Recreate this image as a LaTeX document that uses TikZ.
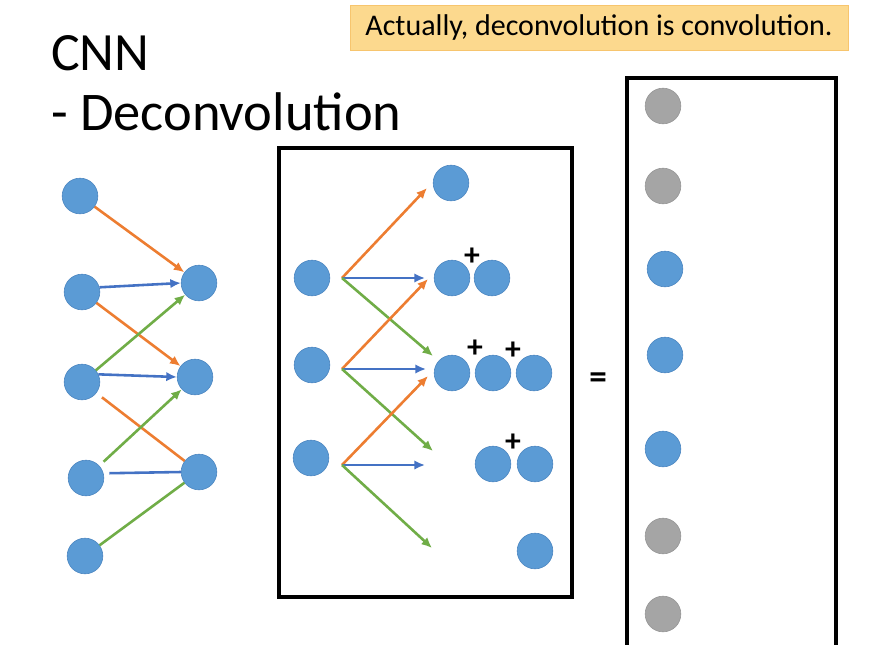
\documentclass[tikz,border=0pt]{standalone}
\usepackage{fontspec}
\setmainfont{Carlito}
\usetikzlibrary{arrows.meta,positioning}
\definecolor{dotblue}{HTML}{5B9BD5}
\definecolor{dotedge}{HTML}{4A85C0}
\definecolor{dotgray}{HTML}{A5A5A5}
\definecolor{grayedge}{HTML}{959595}
\definecolor{arrorange}{HTML}{ED7D31}
\definecolor{arrblue}{HTML}{4472C4}
\definecolor{arrgreen}{HTML}{70AD47}
\definecolor{notefill}{HTML}{FCD98E}
\definecolor{noteedge}{HTML}{F7C56E}

\begin{document}
\begin{tikzpicture}[x=0.03cm,y=-0.03cm,
    dot/.style={circle,fill=dotblue,draw=dotedge,line width=0.5pt,minimum size=1.07cm,inner sep=0pt},
    graydot/.style={dot,fill=dotgray,draw=grayedge},
    link/.style={line width=2.2pt},
    tip/.style={link,-{Latex[length=9pt,width=8pt]}},
    orarr/.style={tip,arrorange},
    bluarr/.style={tip,arrblue},
    grnarr/.style={tip,arrgreen},
    boxline/.style={line width=2.9pt},
    plus/.style={font=\fontsize{27}{27}\selectfont\bfseries,inner sep=0pt}]
  \clip (0,0) rectangle (876,644);
  \fill[white] (0,0) rectangle (876,644);

  % title and note
  \node[anchor=base west,inner sep=0pt,font=\fontsize{46}{50}\selectfont] (title) at (51,70) {CNN};
  \node[anchor=base west,inner sep=0pt,font=\fontsize{46.5}{50}\selectfont] (subtitle) at (51,130) {- Deconvolution};
  \node[fill=notefill,draw=noteedge,line width=0.8pt,minimum width=14.94cm,minimum height=1.35cm,
        font=\fontsize{25.6}{30}\selectfont] (note) at (599,28) {Actually, deconvolution is convolution.};

  % left: convolution view
  \node[dot] (l1) at (80,196) {};
  \node[dot] (l2) at (82,292) {};
  \node[dot] (l3) at (82,382) {};
  \node[dot] (l4) at (86,478) {};
  \node[dot] (l5) at (85,556) {};
  \node[dot] (r1) at (199,283) {};
  \node[dot] (r2) at (195,377) {};
  \node[dot] (r3) at (199,472) {};
  \draw[orarr] (l1) -- (r1);
  \draw[bluarr] (l2.15) -- (r1.west);
  \draw[orarr] (l2) -- (r2);
  \draw[grnarr] (l3) -- (r1);
  \draw[bluarr] (l3.25) -- (r2.west);
  \draw[link,arrorange,shorten <=6pt] (l3) -- (r3);
  \draw[grnarr,shorten <=5pt] (l4) -- (r2);
  \draw[link,arrblue,shorten <=5pt] (l4.15) -- (r3.west);
  \draw[link,arrgreen] (l5) -- (r3);

  % middle: deconvolution view
  \draw[boxline] (279,148) rectangle (572,597);
  \node[dot] (i1) at (312,278) {};
  \node[dot] (i2) at (312,365) {};
  \node[dot] (i3) at (311,458) {};
  \coordinate (f1) at (342,278);
  \coordinate (f2) at (342,369);
  \coordinate (f3) at (342,465);
  \coordinate (e1) at (427,188);
  \coordinate (e2) at (425,278);
  \coordinate (e3) at (433,356);
  \coordinate (e4) at (428,279);
  \coordinate (e5) at (426,369);
  \coordinate (e6) at (433,451);
  \coordinate (e7) at (428,376);
  \coordinate (e8) at (425,465);
  \coordinate (e9) at (432,548);
  \draw[orarr] (f1) -- (e1);
  \draw[bluarr] (f1) -- (e2);
  \draw[grnarr] (f1) -- (e3);
  \draw[orarr] (f2) -- (e4);
  \draw[bluarr] (f2) -- (e5);
  \draw[grnarr] (f2) -- (e6);
  \draw[orarr] (f3) -- (e7);
  \draw[bluarr] (f3) -- (e8);
  \draw[grnarr] (f3) -- (e9);
  \node[dot] (o1) at (451,183) {};
  \node[dot] (o2) at (452,278) {};
  \node[dot] (o3) at (492,278) {};
  \node[dot] (o4) at (452,373) {};
  \node[dot] (o5) at (493,373) {};
  \node[dot] (o6) at (534,373) {};
  \node[dot] (o7) at (493,464) {};
  \node[dot] (o8) at (535,464) {};
  \node[dot] (o9) at (535,551) {};
  \node[plus] (p1) at (472,257) {+};
  \node[plus] (p2) at (475,349) {+};
  \node[plus] (p3) at (513,351) {+};
  \node[plus] (p4) at (513,443) {+};

  \node[font=\fontsize{30}{30}\selectfont\bfseries,inner sep=0pt] (eq) at (598,381) {=};

  % right: output column
  \draw[boxline,line width=3.2pt] (627,660) -- (627,78) -- (836,78) -- (836,660);
  \node[graydot] (g1) at (663,106) {};
  \node[graydot] (g2) at (663,186) {};
  \node[dot] (g3) at (665,269) {};
  \node[dot] (g4) at (665,355) {};
  \node[dot] (g5) at (663,449) {};
  \node[graydot] (g6) at (663,536) {};
  \node[graydot] (g7) at (663,614) {};
\end{tikzpicture}
\end{document}
